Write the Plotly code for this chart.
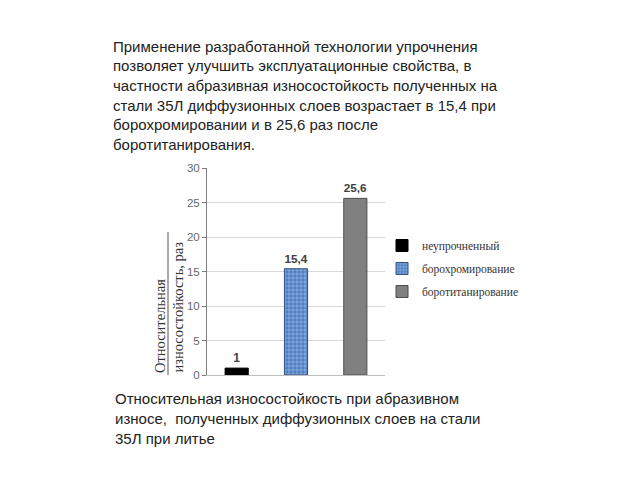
import plotly.graph_objects as go

categories = ["неупрочненный", "борохромирование", "боротитанирование"]
values = [1, 15.4, 25.6]
bar_colors = ["#000000", "#4f81bd", "#808080"]
line_colors = ["#000000", "#2f4f7f", "#4d4d4d"]
y_ticks = [0, 5, 10, 15, 20, 25, 30]

top_text = [
    "Применение разработанной технологии упрочнения",
    "позволяет улучшить эксплуатационные свойства, в",
    "частности абразивная износостойкость полученных на",
    "стали 35Л диффузионных слоев возрастает в 15,4 при",
    "борохромировании и в 25,6 раз после",
    "боротитанирования.",
]
bottom_text = [
    "Относительная износостойкость при абразивном",
    "износе,  полученных диффузионных слоев на стали",
    "35Л при литье",
]
y_title = ["Относительная", "износостойкость, раз"]

L, R, T, B = 207, 385, 168, 375
W, H = 640, 480

def px(x):
    return (x - L) / (R - L)

def py(y):
    return (B - y) / (B - T)

fig = go.Figure()
for i, (c, v) in enumerate(zip(categories, values)):
    marker = dict(color=bar_colors[i], line=dict(color=line_colors[i], width=1))
    if i == 1:
        marker["pattern"] = dict(shape=".", fgcolor="#b3caee", bgcolor="#4a7cc0",
                                 size=4, solidity=0.55)
    fig.add_trace(go.Bar(
        x=[c], y=[v], name=c, marker=marker, width=0.39,
        texttemplate="<b>%{y}</b>", textposition="outside",
        textfont=dict(family="Liberation Sans", size=12, color="#404040"),
        cliponaxis=False, legendgroup=c,
    ))

annotations = []
for i, line in enumerate(top_text):
    annotations.append(dict(text=line, xref="paper", yref="paper",
                            x=px(111), y=py(46 + i * 19.7), xanchor="left", yanchor="middle",
                            showarrow=False,
                            font=dict(family="Liberation Sans", size=15, color="#222222")))
for i, line in enumerate(bottom_text):
    annotations.append(dict(text=line, xref="paper", yref="paper",
                            x=px(113), y=py(398 + i * 20), xanchor="left", yanchor="middle",
                            showarrow=False,
                            font=dict(family="Liberation Sans", size=15, color="#222222")))
for i, (t, xx) in enumerate(zip(y_title, [160, 177])):
    annotations.append(dict(text=t, xref="paper", yref="paper",
                            x=px(xx), y=0, xanchor="center", yanchor="bottom",
                            textangle=-90, showarrow=False,
                            font=dict(family="Liberation Serif", size=14.5, color="#333333")))

fig.update_layout(
    width=W, height=H,
    margin=dict(l=L, r=W - R, t=T, b=H - B, pad=0),
    paper_bgcolor="white", plot_bgcolor="white",
    separators=", ",
    barmode="overlay",
    showlegend=True,
    legend=dict(x=px(382), y=py(231), xanchor="left", yanchor="top",
                font=dict(family="Liberation Serif", size=11.5, color="#333333"),
                tracegroupgap=4, traceorder="grouped",
                bgcolor="rgba(0,0,0,0)", itemwidth=30),
    annotations=annotations,
    shapes=[dict(type="line", xref="paper", yref="paper",
                 x0=px(168), x1=px(168), y0=0, y1=py(232),
                 line=dict(color="#555555", width=1))],
    xaxis=dict(showticklabels=False, showgrid=False, zeroline=False,
               showline=True, linecolor="#bfbfbf", linewidth=1, ticks=""),
    yaxis=dict(range=[0, 30], tickvals=y_ticks, showgrid=True, gridcolor="#d9d9d9",
               zeroline=False, showline=True, linecolor="#7f7f7f", linewidth=1,
               ticks="outside", ticklen=4, tickcolor="#7f7f7f",
               tickfont=dict(family="Liberation Sans", size=11.5, color="#666666")),
)

fig.write_html("out.html")
